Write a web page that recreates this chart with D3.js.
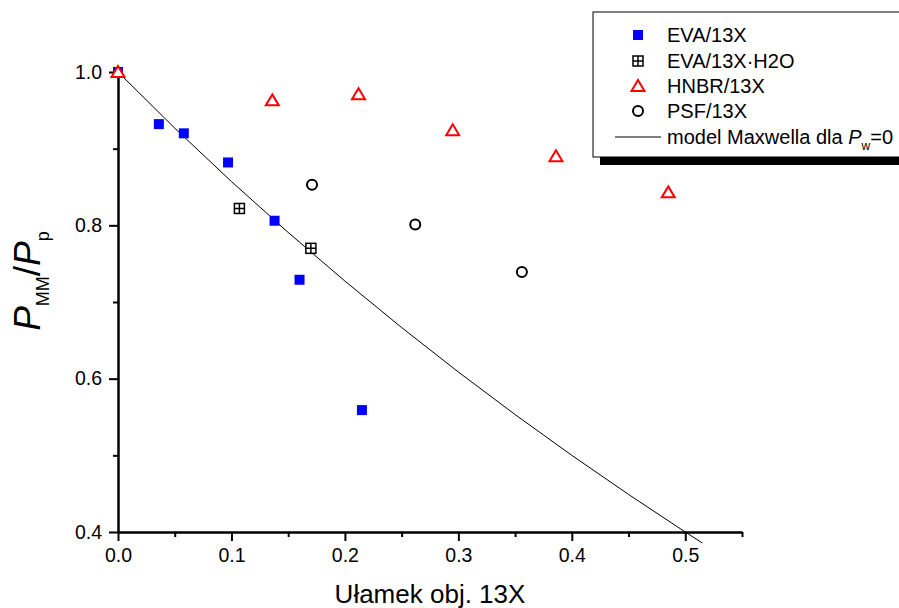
<!DOCTYPE html>
<html>
<head>
<meta charset="utf-8">
<script src="https://cdn.jsdelivr.net/npm/d3@7"></script>
<style>
  body { margin: 0; background: #fff; }
  svg { display: block; font-family: Arial, "Liberation Sans", sans-serif; }
</style>
</head>
<body>
<svg id="chart" width="899" height="608"></svg>
<script>
// ---- data ----
const evaX   = [0, 0.036, 0.058, 0.097, 0.138, 0.160, 0.215];
const evaY   = [1.0, 0.932, 0.920, 0.882, 0.806, 0.729, 0.559];
const evaH2oX = [0.107, 0.170];
const evaH2oY = [0.822, 0.770];
const hnbrX  = [0, 0.136, 0.212, 0.295, 0.386, 0.485];
const hnbrY  = [1.0, 0.963, 0.971, 0.924, 0.890, 0.843];
const psfX   = [0.171, 0.262, 0.356];
const psfY   = [0.853, 0.801, 0.739];
const modelX = [0, 0.05, 0.1, 0.15, 0.2, 0.25, 0.3, 0.35, 0.4, 0.45, 0.5, 0.515];
const modelY = [1.0, 0.9268, 0.8571, 0.7907, 0.7273, 0.6667, 0.6087, 0.5532, 0.5, 0.4490, 0.4, 0.3857];
const xTicks = [0, 0.1, 0.2, 0.3, 0.4, 0.5];
const xMinor = [0.05, 0.15, 0.25, 0.35, 0.45, 0.55];
const yTicks = [0.4, 0.6, 0.8, 1.0];
const yMinor = [0.5, 0.7, 0.9];
const legendLabels = ["EVA/13X", "EVA/13X\u00B7H2O", "HNBR/13X", "PSF/13X", "model Maxwella dla "];
const xTitle = "Ułamek obj. 13X";

const svg = d3.select("#chart");
const x = d3.scaleLinear().domain([0, 0.55]).range([118, 742]);
const y = d3.scaleLinear().domain([0.4, 1.0]).range([532, 72]);

// axes
const xAxis = svg.append("g").attr("transform", "translate(0,532)");
xAxis.call(d3.axisBottom(x).tickValues(xTicks).tickFormat(d3.format(".1f")).tickSize(9).tickSizeOuter(0));
xAxis.append("g").call(d3.axisBottom(x).tickValues(xMinor).tickFormat("").tickSize(5).tickSizeOuter(0));
const yAxis = svg.append("g").attr("transform", "translate(118,0)");
yAxis.call(d3.axisLeft(y).tickValues(yTicks).tickFormat(d3.format(".1f")).tickSize(9).tickSizeOuter(0));
yAxis.append("g").call(d3.axisLeft(y).tickValues(yMinor).tickFormat("").tickSize(5).tickSizeOuter(0));
svg.selectAll(".domain").attr("stroke", "#000").attr("stroke-width", 2);
svg.selectAll(".tick line").attr("stroke", "#000").attr("stroke-width", 2);
svg.selectAll(".tick text").attr("font-size", 19.5).attr("fill", "#000")
   .attr("font-family", "Arial, 'Liberation Sans', sans-serif");
xAxis.selectAll(".tick text").attr("dy", "0.95em").attr("y", 11);
yAxis.selectAll(".tick text").attr("x", -16);

// titles
svg.append("text").attr("x", 430).attr("y", 603).attr("text-anchor", "middle")
   .attr("font-size", 26).text(xTitle);
const yt = svg.append("text").attr("transform", "translate(40,281) rotate(-90)")
   .attr("text-anchor", "middle").attr("font-size", 37);
yt.append("tspan").attr("font-style", "italic").text("P");
yt.append("tspan").attr("font-size", 18).attr("dy", 9).text("MM");
yt.append("tspan").attr("dy", -9).text("/");
yt.append("tspan").attr("font-style", "italic").text("P");
yt.append("tspan").attr("font-size", 18).attr("dy", 9).text("p");

// model line
const line = d3.line().x(d => x(d[0])).y(d => y(d[1]));
svg.append("path").datum(d3.zip(modelX, modelY)).attr("d", line)
   .attr("fill", "none").attr("stroke", "#000").attr("stroke-width", 1);

// marker drawers
function blueSquare(g, cx, cy) {
  g.append("rect").attr("x", cx - 5).attr("y", cy - 5).attr("width", 10).attr("height", 10)
   .attr("fill", "#0000ff");
}
function crossSquare(g, cx, cy) {
  g.append("rect").attr("x", cx - 5).attr("y", cy - 5).attr("width", 10).attr("height", 10)
   .attr("fill", "#fff").attr("stroke", "#000").attr("stroke-width", 1.5);
  g.append("path").attr("d", `M${cx - 5},${cy}H${cx + 5}M${cx},${cy - 5}V${cy + 5}`)
   .attr("stroke", "#000").attr("stroke-width", 1.5);
}
function triangle(g, cx, cy) {
  g.append("path").attr("d", `M${cx},${cy - 6}L${cx + 6.5},${cy + 5}L${cx - 6.5},${cy + 5}Z`)
   .attr("fill", "#fff").attr("stroke", "#ff0000").attr("stroke-width", 2);
}
function circle(g, cx, cy) {
  g.append("circle").attr("cx", cx).attr("cy", cy).attr("r", 5)
   .attr("fill", "#fff").attr("stroke", "#000").attr("stroke-width", 2);
}

const pts = svg.append("g");
evaX.forEach((v, i) => blueSquare(pts, x(v), y(evaY[i])));
evaH2oX.forEach((v, i) => crossSquare(pts, x(v), y(evaH2oY[i])));
psfX.forEach((v, i) => circle(pts, x(v), y(psfY[i])));
hnbrX.forEach((v, i) => triangle(pts, x(v), y(hnbrY[i])));

// legend
const lg = svg.append("g");
lg.append("rect").attr("x", 600).attr("y", 20).attr("width", 400).attr("height", 145).attr("fill", "#000");
lg.append("rect").attr("x", 593).attr("y", 12).attr("width", 400).attr("height", 145)
  .attr("fill", "#fff").attr("stroke", "#000").attr("stroke-width", 1);
const rowY = [35, 61, 86, 111, 137];
blueSquare(lg, 638, rowY[0]);
crossSquare(lg, 638, rowY[1]);
triangle(lg, 638, rowY[2]);
circle(lg, 638, rowY[3]);
lg.append("line").attr("x1", 615).attr("x2", 661).attr("y1", rowY[4]).attr("y2", rowY[4])
  .attr("stroke", "#000").attr("stroke-width", 1);
legendLabels.forEach((t, i) => {
  const tx = lg.append("text").attr("x", 667).attr("y", rowY[i] + 7).attr("font-size", 20).text(t);
  if (i === 4) {
    tx.append("tspan").attr("font-style", "italic").text("P");
    tx.append("tspan").attr("font-size", 12).attr("dy", 6).text("w");
    tx.append("tspan").attr("dy", -6).text("=0");
  }
});
</script>
</body>
</html>
